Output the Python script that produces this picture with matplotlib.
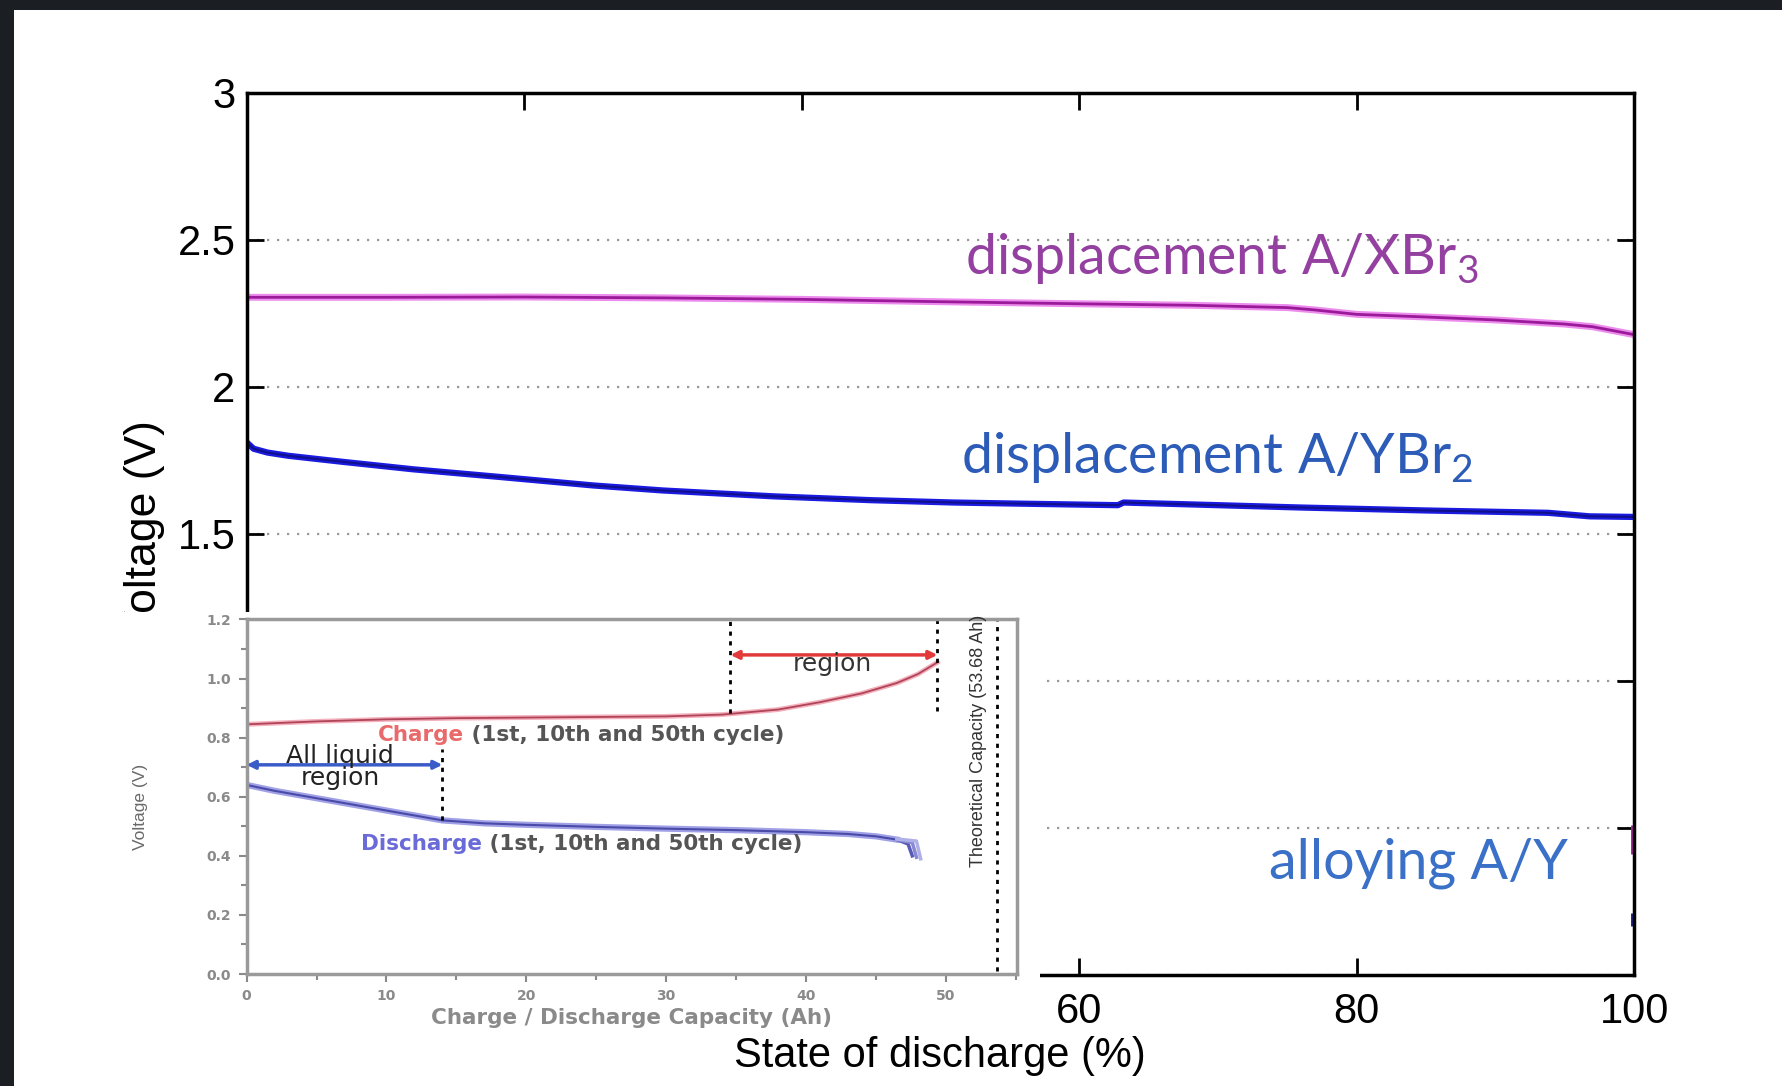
import matplotlib
matplotlib.use("Agg")
import matplotlib.pyplot as plt
from matplotlib.patches import Rectangle
from matplotlib.ticker import MultipleLocator, FuncFormatter

# ---- main chart data (state of discharge %, voltage V)
soc_xbr3 = [0, 10, 20, 30, 40, 50, 60, 68, 75, 77, 80, 85, 90, 95, 97, 100]
v_xbr3 = [2.305, 2.305, 2.306, 2.303, 2.298, 2.290, 2.283, 2.278, 2.270, 2.262,
          2.247, 2.238, 2.228, 2.214, 2.205, 2.178]

soc_ybr2 = [0, 0.5, 1.5, 3, 7, 12, 18, 25, 30, 38, 45, 51, 56, 62.8, 63.2, 70,
            76, 85, 93.8, 96.8, 100]
v_ybr2 = [1.812, 1.790, 1.777, 1.766, 1.745, 1.720, 1.695, 1.665, 1.648, 1.628,
          1.615, 1.607, 1.603, 1.598, 1.607, 1.598, 1.590, 1.580, 1.572, 1.560, 1.558]

# bits of the hidden alloying curves that peek out at 100 %
soc_tail_m = [100, 100]
v_tail_m = [0.51, 0.41]
soc_tail_b = [100, 100]
v_tail_b = [0.21, 0.165]

main_xticks = [0, 20, 40, 60, 80, 100]
main_xlabels = ["", "", "", "60", "80", "100"]      # 0-40 sit under the inset
main_yticks = [0, 0.5, 1, 1.5, 2, 2.5, 3]
main_ylabels = ["", "", "", "1.5", "2", "2.5", "3"]

# ---- inset data (capacity Ah, voltage V)
cap_chg = [0, 5, 10, 15, 20, 25, 30, 34, 38, 41, 44, 46.5, 48, 49.4]
v_chg = [0.845, 0.855, 0.862, 0.866, 0.868, 0.870, 0.872, 0.878, 0.895, 0.920,
         0.950, 0.985, 1.015, 1.055]

cap_dis = [0, 2, 5, 8, 11, 14, 17, 20, 25, 30, 35, 40, 43, 45, 46.5]
v_dis = [0.640, 0.620, 0.595, 0.570, 0.545, 0.520, 0.510, 0.505, 0.498, 0.492,
         0.487, 0.480, 0.474, 0.466, 0.455]
# end of discharge for 1st, 10th, 50th cycle
tail_cap = [[46.5, 47.3, 47.6], [46.5, 47.6, 47.9], [46.5, 47.9, 48.2]]
tail_v = [[0.455, 0.44, 0.40], [0.455, 0.445, 0.395], [0.457, 0.45, 0.39]]

liquid_end = 14.0
solid_start, solid_end = 34.6, 49.4
theor_cap = 53.68

fig = plt.figure(figsize=(17.82, 10.86), dpi=100, facecolor="white")

# ---------------- main axes
ax = fig.add_axes([0.1384, 0.1022, 0.7786, 0.8122], zorder=0)
ax.plot(soc_xbr3, v_xbr3, color="#e040e0", lw=5, alpha=0.6, solid_capstyle="butt")
ax.plot(soc_xbr3, v_xbr3, color="#9a1a9a", lw=2)
ax.plot(soc_ybr2, v_ybr2, color="#1a1ae0", lw=4.5)
ax.plot(soc_ybr2, v_ybr2, color="#10108a", lw=1.5)
ax.plot(soc_tail_m, v_tail_m, color="#b020a0", lw=5, solid_capstyle="butt")
ax.plot(soc_tail_b, v_tail_b, color="#20208a", lw=5, solid_capstyle="butt")

ax.set_xlim(0, 100)
ax.set_ylim(0, 3)
ax.set_xticks(main_xticks, main_xlabels)
ax.set_yticks(main_yticks, main_ylabels)
ax.tick_params(direction="in", top=True, right=True, length=12, width=2,
               labelsize=30, pad=8)
ax.tick_params(axis="x", pad=12)
for s in ax.spines.values():
    s.set_linewidth(2.5)
ax.yaxis.grid(True, linestyle=(0, (1, 3.5)), color="#999999", lw=1.6)
ax.set_axisbelow(True)

ax.set_ylabel("Voltage (V)", fontsize=32, family="Liberation Sans")
ax.yaxis.set_label_coords(-0.059, 0.5045)
ax.set_xlabel("State of discharge (%)", fontsize=30, family="Liberation Sans")
ax.xaxis.set_label_coords(0.5, -0.069)
for lab in ax.get_xticklabels() + ax.get_yticklabels():
    lab.set_family("Liberation Sans")

lbl_font = dict(fontsize=40, family=["Lato", "DejaVu Sans"], va="center")
ax.text(51.8, 2.436, r"displacement A/XBr$_\mathregular{3}$", color="#9440a0", **lbl_font)
ax.text(51.5, 1.759, r"displacement A/YBr$_\mathregular{2}$", color="#2c5cb8", **lbl_font)
ax.text(73.7, 0.379, "alloying A/Y", color="#3a70c8", **lbl_font)

# white sheet the inset figure was pasted on
fig.patches.append(Rectangle((0.064, 0.0497), 0.5196, 0.387, transform=fig.transFigure,
                             facecolor="white", edgecolor="none", zorder=1))

# ---------------- inset
ins = fig.add_axes([0.1384, 0.1031, 0.4324, 0.3265], zorder=2)
ins.set_facecolor("white")
ins.set_xlim(0, 55.1)
ins.set_ylim(0, 1.2)
gray = "#8a8a8a"
for s in ins.spines.values():
    s.set_linewidth(2.5)
    s.set_color("#9a9a9a")
ins.xaxis.set_major_locator(MultipleLocator(10))
ins.xaxis.set_minor_locator(MultipleLocator(5))
ins.yaxis.set_major_locator(MultipleLocator(0.2))
ins.yaxis.set_minor_locator(MultipleLocator(0.1))
ins.yaxis.set_major_formatter(FuncFormatter(lambda v, p: "%.1f" % v))
ins.tick_params(which="both", colors=gray, width=1.5, labelsize=10, pad=5)
ins.tick_params(which="major", length=6)
ins.tick_params(which="minor", length=4)
for lab in ins.get_xticklabels() + ins.get_yticklabels():
    lab.set_fontweight("bold")

ins.set_xlabel("Charge / Discharge Capacity (Ah)", fontsize=15.5, color=gray,
               fontweight="bold")
ins.xaxis.set_label_coords(0.5, -0.095)
ins.set_ylabel("Voltage (V)", fontsize=12.5, color="#6a6a6a",
               family=["Liberation Sans Narrow", "Liberation Sans"])
ins.yaxis.set_label_coords(-0.128, 0.47)

# charge curves
ins.plot(cap_chg, v_chg, color="#f4b0bc", lw=3.5)
ins.plot(cap_chg, v_chg, color="#b04458", lw=1.3)
# discharge curves
ins.plot(cap_dis, v_dis, color="#a0a0e6", lw=4.5)
ins.plot(cap_dis, v_dis, color="#4a4aa8", lw=1.5)
for cx, cv, col in zip(tail_cap, tail_v, ["#5a5ab8", "#8888d4", "#b0b0e8"]):
    ins.plot(cx, cv, color=col, lw=2.5)

# region markers
dots = (0, (1.5, 2))
ins.plot([liquid_end, liquid_end], [0.52, 0.76], color="black", lw=2, ls=dots)
ins.plot([solid_start, solid_start], [0.885, 1.2], color="black", lw=2, ls=dots)
ins.plot([solid_end, solid_end], [0.89, 1.2], color="black", lw=2, ls=dots)
ins.plot([theor_cap, theor_cap], [0.01, 1.2], color="black", lw=2, ls=dots)

ins.annotate("", xy=(0, 0.708), xytext=(liquid_end, 0.708),
             arrowprops=dict(arrowstyle="<|-|>", color="#3a5cc8", lw=2.5,
                             mutation_scale=12, shrinkA=0, shrinkB=0))
ins.annotate("", xy=(solid_start, 1.08), xytext=(solid_end, 1.08),
             arrowprops=dict(arrowstyle="<|-|>", color="#e23a3a", lw=2.5,
                             mutation_scale=12, shrinkA=0, shrinkB=0))

ins.text(6.7, 0.737, "All liquid", fontsize=18, ha="center", va="center", color="#222222")
ins.text(6.7, 0.662, "region", fontsize=18, ha="center", va="center", color="#222222")
ins.text(41.9, 1.05, "region", fontsize=18, ha="center", va="center", color="#333333")

t1 = ins.text(9.4, 0.81, "Charge", fontsize=15.5, color="#e86a6a",
              fontweight="bold", va="center")
ins.annotate(" (1st, 10th and 50th cycle)", xy=(1, 0.5), xycoords=t1,
             fontsize=15.5, color="#555555", fontweight="bold", va="center")
t2 = ins.text(8.2, 0.44, "Discharge", fontsize=15.5, color="#6a6ad8",
              fontweight="bold", va="center")
ins.annotate(" (1st, 10th and 50th cycle)", xy=(1, 0.5), xycoords=t2,
             fontsize=15.5, color="#555555", fontweight="bold", va="center")

ins.text(52.3, 0.79, "Theoretical Capacity (53.68 Ah)", rotation=90, fontsize=13,
         ha="center", va="center", color="#333333",
         family=["Liberation Sans Narrow", "Liberation Sans"])

# dark frame at top and left of the picture
fig.patches.append(Rectangle((0, 0.9908), 1, 0.0092, transform=fig.transFigure,
                             facecolor="#1b1e23", edgecolor="none", zorder=5))
fig.patches.append(Rectangle((0, 0), 0.0079, 1, transform=fig.transFigure,
                             facecolor="#1b1e23", edgecolor="none", zorder=5))

fig.savefig("out.png", dpi=100, facecolor="white")
